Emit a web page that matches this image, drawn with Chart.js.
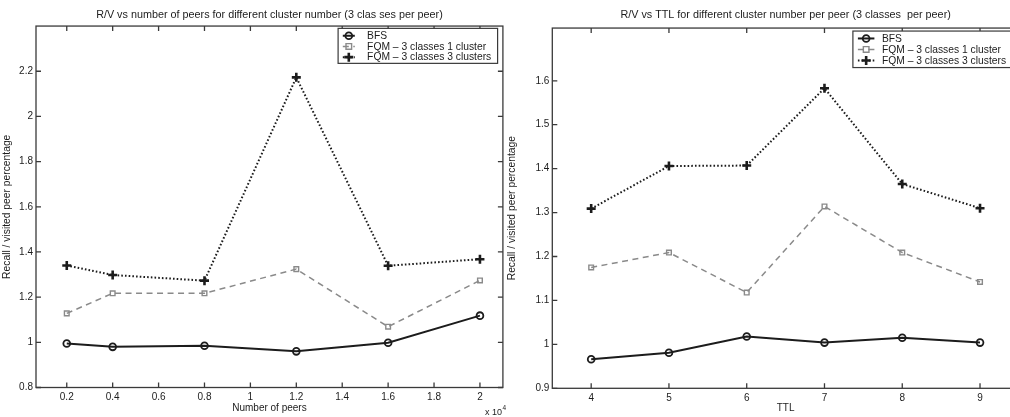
<!DOCTYPE html>
<html>
<head>
<meta charset="utf-8">
<script src="https://cdn.jsdelivr.net/npm/chart.js@4.4.1/dist/chart.umd.min.js"></script>
<style>
  html, body { margin: 0; padding: 0; background: #fff; width: 1010px; height: 417px; overflow: hidden; position: relative; }
  canvas { position: absolute; top: 0; }
  #peers { left: 0; }
  #ttl { left: 505px; }
</style>
</head>
<body>
<canvas id="peers" width="510" height="417"></canvas>
<canvas id="ttl" width="521" height="417"></canvas>
<script>
// ---- Left panel: R/V against number of peers (x 10^4) ----
const peerCounts     = [0.2, 0.4, 0.8, 1.2, 1.6, 2.0];
const bfsByPeers     = [0.995, 0.98, 0.985, 0.96, 0.998, 1.118];
const fqm1ByPeers    = [1.128, 1.217, 1.217, 1.324, 1.069, 1.274];
const fqm3ByPeers    = [1.34, 1.298, 1.273, 2.173, 1.339, 1.368];
const peerXTicks     = [0.2, 0.4, 0.6, 0.8, 1, 1.2, 1.4, 1.6, 1.8, 2];
const peerYTicks     = [0.8, 1, 1.2, 1.4, 1.6, 1.8, 2, 2.2];

// ---- Right panel: R/V against TTL ----
const ttlValues      = [4, 5, 6, 7, 8, 9];
const bfsByTtl       = [0.966, 0.981, 1.018, 1.004, 1.015, 1.004];
const fqm1ByTtl      = [1.175, 1.209, 1.118, 1.314, 1.209, 1.142];
const fqm3ByTtl      = [1.309, 1.406, 1.407, 1.583, 1.365, 1.31];
const ttlXTicks      = [4, 5, 6, 7, 8, 9];
const ttlYTicks      = [0.9, 1, 1.1, 1.2, 1.3, 1.4, 1.5, 1.6];

const seriesLabels   = ['BFS', 'FQM \u2013 3 classes 1 cluster', 'FQM \u2013 3 classes 3 clusters'];

const FONT = '"Liberation Sans", Arial, Helvetica, sans-serif';
const INK = '#1c1c1c';
const GREY = '#8a8a8a';
const AXIS = '#3a3a3a';

function fmt(v) { return String(parseFloat(Number(v).toFixed(3))); }

function drawMarker(ctx, style, x, y, r, color, lw) {
  ctx.save();
  ctx.strokeStyle = color;
  ctx.lineWidth = lw;
  ctx.setLineDash([]);
  ctx.beginPath();
  if (style === 'circle') {
    ctx.arc(x, y, r, 0, Math.PI * 2);
  } else if (style === 'rect') {
    ctx.rect(x - r * 0.85, y - r * 0.85, r * 1.7, r * 1.7);
  } else {
    ctx.moveTo(x - r, y); ctx.lineTo(x + r, y);
    ctx.moveTo(x, y - r); ctx.lineTo(x, y + r);
  }
  ctx.stroke();
  ctx.restore();
}

// Box frame with inward ticks on all four sides
const frameTicks = {
  id: 'frameTicks',
  afterDraw(chart) {
    const { ctx, chartArea: a, scales: { x, y } } = chart;
    const L = 5;
    ctx.save();
    ctx.strokeStyle = AXIS;
    ctx.lineWidth = 1.3;
    ctx.strokeRect(a.left, a.top, a.right - a.left, a.bottom - a.top);
    ctx.beginPath();
    x.ticks.forEach(t => {
      const px = x.getPixelForValue(t.value);
      ctx.moveTo(px, a.bottom); ctx.lineTo(px, a.bottom - L);
      ctx.moveTo(px, a.top); ctx.lineTo(px, a.top + L);
    });
    y.ticks.forEach(t => {
      const py = y.getPixelForValue(t.value);
      ctx.moveTo(a.left, py); ctx.lineTo(a.left + L, py);
      ctx.moveTo(a.right, py); ctx.lineTo(a.right - L, py);
    });
    ctx.stroke();
    ctx.restore();
  }
};

// Framed legend in the upper right corner of the plot
const boxedLegend = {
  id: 'boxedLegend',
  afterDraw(chart, args, o) {
    const { ctx, chartArea: a } = chart;
    const left = a.right - o.right - o.width;
    const top = a.top + o.top;
    ctx.save();
    ctx.fillStyle = '#fff';
    ctx.fillRect(left, top, o.width, o.height);
    ctx.strokeStyle = AXIS;
    ctx.lineWidth = 1.2;
    ctx.strokeRect(left, top, o.width, o.height);
    ctx.font = '10.3px ' + FONT;
    ctx.textBaseline = 'middle';
    ctx.textAlign = 'left';
    chart.data.datasets.forEach((ds, i) => {
      const cy = top + o.first + i * o.row;
      ctx.save();
      ctx.strokeStyle = ds.borderColor;
      ctx.lineWidth = ds.borderWidth;
      ctx.setLineDash(ds.borderDash || []);
      ctx.beginPath();
      ctx.moveTo(left + o.lineFrom, cy);
      ctx.lineTo(left + o.lineTo, cy);
      ctx.stroke();
      ctx.restore();
      drawMarker(ctx, ds.pointStyle, left + (o.lineFrom + o.lineTo) / 2, cy,
                 ds.pointRadius, ds.pointBorderColor, ds.pointBorderWidth);
      ctx.fillStyle = INK;
      ctx.fillText(ds.label, left + o.textX, cy + 0.5);
    });
    ctx.restore();
  }
};

// Axis multiplier written under the right end of the x axis
const axisExponent = {
  id: 'axisExponent',
  afterDraw(chart, args, o) {
    if (!o || !o.display) return;
    const { ctx, chartArea: a } = chart;
    ctx.save();
    ctx.fillStyle = INK;
    ctx.textBaseline = 'middle';
    ctx.textAlign = 'left';
    ctx.font = '9px ' + FONT;
    const x0 = a.right + o.dx;
    ctx.fillText(o.base, x0, a.bottom + o.dy);
    const w = ctx.measureText(o.base).width;
    ctx.font = '6.5px ' + FONT;
    ctx.fillText(o.power, x0 + w + 0.5, a.bottom + o.dy - 5);
    ctx.restore();
  }
};

function series(xs, ys) { return xs.map((x, i) => ({ x, y: ys[i] })); }

function makeDatasets(xs, a, b, c) {
  return [
    { label: seriesLabels[0], data: series(xs, a), borderColor: INK, borderWidth: 2,
      pointStyle: 'circle', pointRadius: 3.4, pointBorderColor: INK, pointBorderWidth: 1.8,
      pointBackgroundColor: 'rgba(255,255,255,0)' },
    { label: seriesLabels[1], data: series(xs, b), borderColor: GREY, borderWidth: 1.5,
      borderDash: [6, 4.5],
      pointStyle: 'rect', pointRadius: 3.3, pointBorderColor: GREY, pointBorderWidth: 1.4,
      pointBackgroundColor: 'rgba(255,255,255,0)' },
    { label: seriesLabels[2], data: series(xs, c), borderColor: INK, borderWidth: 2,
      borderDash: [1.6, 2.1],
      pointStyle: 'cross', pointRadius: 4.5, pointBorderColor: INK, pointBorderWidth: 2.6,
      pointBackgroundColor: INK }
  ];
}

function makeChart(id, cfg) {
  return new Chart(document.getElementById(id), {
    type: 'line',
    data: { datasets: cfg.datasets },
    options: {
      responsive: false,
      animation: false,
      devicePixelRatio: 1,
      layout: { padding: { left: 0, right: cfg.padRight, top: 0, bottom: 0 } },
      elements: { line: { tension: 0, fill: false } },
      plugins: {
        legend: { display: false },
        tooltip: { enabled: false },
        title: {
          display: true, text: cfg.title, fullSize: false, color: INK,
          font: { family: FONT, size: 10.8, weight: 'normal' },
          padding: { top: cfg.titleTop, bottom: cfg.titleBottom }
        },
        boxedLegend: cfg.legend,
        axisExponent: cfg.exponent || { display: false }
      },
      scales: {
        x: {
          type: 'linear', min: cfg.xMin, max: cfg.xMax,
          afterBuildTicks: s => { s.ticks = cfg.xTicks.map(v => ({ value: v })); },
          afterFit: s => { s.height = cfg.xHeight; },
          grid: { display: false, drawTicks: false },
          border: { display: false },
          ticks: { color: INK, font: { family: FONT, size: 10 }, padding: 3.5,
                   maxRotation: 0, autoSkip: false, callback: v => fmt(v) },
          title: { display: true, text: cfg.xTitle, color: INK,
                   font: { family: FONT, size: 10 }, padding: { top: 0, bottom: 2.5 } }
        },
        y: {
          type: 'linear', min: cfg.yMin, max: cfg.yMax,
          afterBuildTicks: s => { s.ticks = cfg.yTicks.map(v => ({ value: v })); },
          afterFit: s => { s.width = cfg.yWidth; },
          grid: { display: false, drawTicks: false },
          border: { display: false },
          ticks: { color: INK, font: { family: FONT, size: 10 }, padding: 3,
                   autoSkip: false, callback: v => fmt(v) },
          title: { display: true, text: 'Recall / visited peer percentage', color: INK,
                   font: { family: FONT, size: 10.3 }, padding: { top: 1.2, bottom: 0 } }
        }
      }
    },
    plugins: [frameTicks, boxedLegend, axisExponent]
  });
}

makeChart('peers', {
  datasets: makeDatasets(peerCounts, bfsByPeers, fqm1ByPeers, fqm3ByPeers),
  title: 'R/V vs number of peers for different cluster number (3 clas ses per peer)',
  titleTop: 9, titleBottom: 4.1,
  xTitle: 'Number of peers',
  xMin: 0.066, xMax: 2.1, xTicks: peerXTicks,
  yMin: 0.8, yMax: 2.4, yTicks: peerYTicks,
  yWidth: 36, xHeight: 29.5, padRight: 7,
  legend: { width: 159.5, height: 35, right: 5.3, top: 2.3, first: 7.4, row: 10.7,
            lineFrom: 4.7, lineTo: 16.7, textX: 29 },
  exponent: { display: true, base: 'x 10', power: '4', dx: -18, dy: 25.5 }
});

makeChart('ttl', {
  datasets: makeDatasets(ttlValues, bfsByTtl, fqm1ByTtl, fqm3ByTtl),
  title: 'R/V vs TTL for different cluster number per peer (3 classes  per peer)',
  titleTop: 9, titleBottom: 6.1,
  xTitle: 'TTL',
  xMin: 3.5, xMax: 9.5, xTicks: ttlXTicks,
  yMin: 0.9, yMax: 1.72, yTicks: ttlYTicks,
  yWidth: 47.3, xHeight: 28.7, padRight: 7,
  legend: { width: 160, height: 36.5, right: 6, top: 3, first: 7.4, row: 11,
            lineFrom: 5, lineTo: 21.5, textX: 29 }
});
</script>
</body>
</html>
